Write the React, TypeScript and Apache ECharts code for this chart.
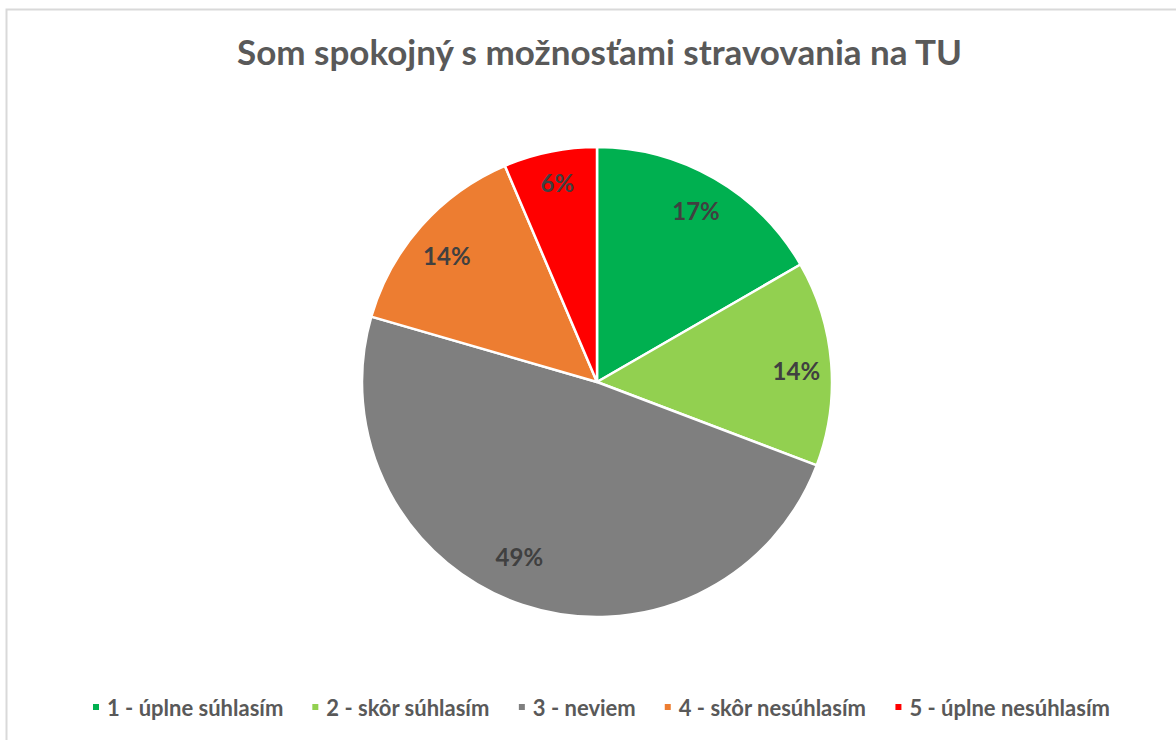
import React, { useEffect, useRef } from "react";
import * as echarts from "echarts";

const TITLE = "Som spokojný s možnosťami stravovania na TU";
const categories = [
  "1 - úplne súhlasím",
  "2 - skôr súhlasím",
  "3 - neviem",
  "4 - skôr nesúhlasím",
  "5 - úplne nesúhlasím",
];
const counts = [13, 11, 38, 11, 5];
const colors = ["#00b050", "#92d050", "#7f7f7f", "#ed7d31", "#ff0000"];
// small label nudges (styling, mimics Excel's label placement)
const labelNudges = [
  [0, 0],
  [2, 4],
  [-15, -13],
  [-2, 5],
  [0, -6],
];

const FONT = "Lato, 'Open Sans', sans-serif";

export default function App() {
  const ref = useRef<HTMLDivElement>(null);
  useEffect(() => {
    if (!ref.current) return;
    const chart = echarts.init(ref.current, null, { renderer: "svg" });
    const data = categories.map((name, i) => ({
      name,
      value: counts[i],
      itemStyle: { color: colors[i] },
    }));
    chart.setOption({
      animation: false,
      backgroundColor: "#ffffff",
      title: {
        text: TITLE,
        left: 232,
        top: 28,
        textStyle: {
          fontFamily: FONT,
          fontSize: 35,
          fontWeight: "bold",
          color: "#595959",
        },
      },
      graphic: [
        {
          type: "rect",
          shape: { x: 6.5, y: 9.5, width: 1300, height: 900 },
          style: { fill: "none", stroke: "#d9d9d9", lineWidth: 2 },
          silent: true,
          z: -10,
        },
      ],
      legend: {
        bottom: 17,
        left: 86,
        icon: "rect",
        itemWidth: 8,
        itemHeight: 8,
        itemGap: 27,
        selectedMode: false,
        data: categories.map((n, i) => ({ name: n, itemStyle: { color: colors[i] } })),
        textStyle: {
          fontFamily: FONT,
          fontSize: 22,
          fontWeight: "bold",
          color: "#595959",
          padding: [0, 0, 0, 2],
        },
      },
      series: [
        {
          type: "pie",
          center: [597, 382],
          radius: [0, 235],
          startAngle: 90,
          percentPrecision: 0,
          silent: true,
          label: { show: false },
          labelLine: { show: false },
          itemStyle: { borderColor: "#ffffff", borderWidth: 2.5 },
          data,
        },
        {
          type: "pie",
          center: [597, 382],
          radius: [155, 235],
          startAngle: 90,
          percentPrecision: 0,
          silent: true,
          itemStyle: { color: "transparent", borderWidth: 0 },
          label: {
            show: true,
            position: "inside",
            formatter: "{d}%",
            fontFamily: FONT,
            fontSize: 24,
            fontWeight: "bold",
            color: "#404040",
          },
          labelLayout: (p: any) => {
            const n = labelNudges[p.dataIndex] || [0, 0];
            return { dx: n[0], dy: n[1] };
          },
          labelLine: { show: false },
          data: categories.map((name, i) => ({ name, value: counts[i] })),
        },
      ],
    });
    return () => chart.dispose();
  }, []);
  return (
    <div
      ref={ref}
      style={{ position: "fixed", left: 0, top: 0, width: 1176, height: 740 }}
    />
  );
}
